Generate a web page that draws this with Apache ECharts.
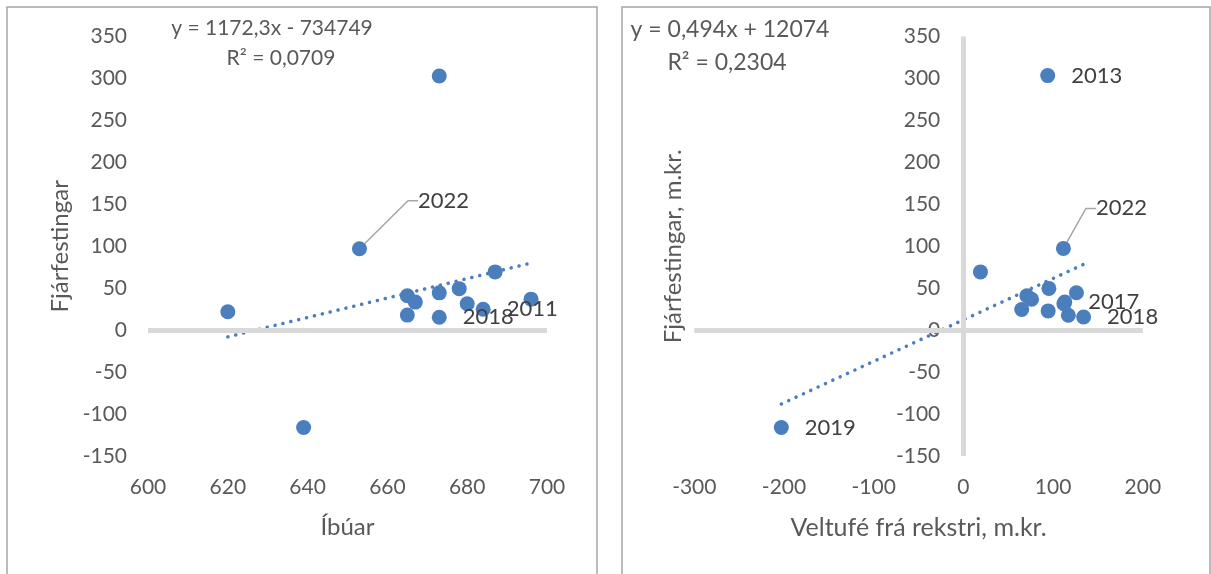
<!DOCTYPE html>
<html>
<head>
<meta charset="utf-8">
<script src="https://cdn.jsdelivr.net/npm/echarts@6/dist/echarts.min.js"></script>
<style>
html,body{margin:0;padding:0;background:#fff;}
#c{width:1211px;height:574px;}
</style>
</head>
<body>
<div id="c"></div>
<script>
// ---- Data ----
// Left chart: Íbúar (x) vs Fjárfestingar (y)
const leftX = [620, 639, 653, 673, 665, 667, 665, 673, 673, 678, 680, 684, 687, 696];
const leftY = [22, -116, 97, 303, 41, 33.5, 18, 44.5, 15.5, 49.5, 31.5, 25, 69.5, 37];
const leftLabels = ['', '', '2022', '', '', '', '', '', '2018', '', '', '2011', '', ''];
const leftTrendX = [620, 696];
const leftTrendY = [-8, 80];
const leftEquation = ['y = 1172,3x - 734749', 'R² = 0,0709'];

// Right chart: Veltufé frá rekstri (x) vs Fjárfestingar (y)
const rightX = [94, 111.5, 19, -203, 95.3, 70.8, 76, 65, 94.5, 113, 126, 117, 134, 112];
const rightY = [303.5, 97.5, 69.5, -116, 49.8, 41, 36.8, 24.6, 23, 33.5, 44.6, 17.8, 15.7, 31.5];
const rightLabels = ['2013', '2022', '', '2019', '', '', '', '', '', '2017', '', '', '2018', ''];
const rightTrendX = [-203, 135];
const rightTrendY = [-88, 79];
const rightEquation = ['y = 0,494x + 12074', 'R² = 0,2304'];

const yTicks = {min: -150, max: 350, interval: 50};
const leftXTicks = {min: 600, max: 700, interval: 20};
const rightXTicks = {min: -300, max: 200, interval: 100};

// ---- Styles ----
const FONT = 'Lato, "Open Sans", sans-serif';
const TXT = '#595959';
const BLUE = '#4a7ebd';
const AXISGRAY = '#d9d9d9';

function pts(xs, ys, labels) {
  return xs.map((x, i) => {
    const item = {value: [x, ys[i]]};
    if (labels[i]) {
      item.label = {show: true, formatter: labels[i]};
      if (labels[i] === '2022') {
        item.labelLine = {show: true, length2: 10, lineStyle: {color: '#a6a6a6', width: 1.5}};
      }
    }
    return item;
  });
}

function trend(xs, ys) { return xs.map((x, i) => [x, ys[i]]); }

const chart = echarts.init(document.getElementById('c'), null, {renderer: 'canvas'});

const labelBase = {show: false, position: 'right', distance: 16, color: '#404040', fontSize: 22, fontFamily: FONT};
const axisLineStyle = {color: AXISGRAY, width: 5, type: 'solid'};

const option = {
  backgroundColor: '#fff',
  animation: false,
  textStyle: {fontFamily: FONT},
  grid: [
    {left: 148, top: 36.6, width: 399, height: 419.4},
    {left: 694.3, top: 36.6, width: 448.5, height: 419.4}
  ],
  xAxis: [
    {
      gridIndex: 0, type: 'value', min: leftXTicks.min, max: leftXTicks.max, interval: leftXTicks.interval,
      axisLine: {show: false}, axisTick: {show: false}, splitLine: {show: false},
      axisLabel: {color: TXT, fontSize: 21, fontFamily: FONT, margin: 21},
      name: 'Íbúar', nameLocation: 'middle', nameGap: 59,
      nameTextStyle: {color: TXT, fontSize: 24, fontFamily: FONT}
    },
    {
      gridIndex: 1, type: 'value', min: rightXTicks.min, max: rightXTicks.max, interval: rightXTicks.interval,
      axisLine: {show: false}, axisTick: {show: false}, splitLine: {show: false},
      axisLabel: {color: TXT, fontSize: 21, fontFamily: FONT, margin: 21},
      name: 'Veltufé frá rekstri, m.kr.', nameLocation: 'middle', nameGap: 59,
      nameTextStyle: {color: TXT, fontSize: 25, fontFamily: FONT}
    }
  ],
  yAxis: [
    {
      gridIndex: 0, type: 'value', min: yTicks.min, max: yTicks.max, interval: yTicks.interval,
      axisLine: {show: false}, axisTick: {show: false}, splitLine: {show: false},
      axisLabel: {color: TXT, fontSize: 21, fontFamily: FONT, margin: 21},
      name: 'Fjárfestingar', nameLocation: 'middle', nameGap: 76,
      nameTextStyle: {color: TXT, fontSize: 24, fontFamily: FONT}
    },
    {
      gridIndex: 1, type: 'value', min: yTicks.min, max: yTicks.max, interval: yTicks.interval,
      axisLine: {show: false, onZero: false},
      axisTick: {show: false}, splitLine: {show: false},
      axisLabel: {color: TXT, fontSize: 21, fontFamily: FONT, margin: -246, align: 'right'},
      name: 'Fjárfestingar, m.kr.', nameLocation: 'middle', nameGap: 9,
      nameTextStyle: {color: TXT, fontSize: 24, fontFamily: FONT}
    }
  ],
  graphic: [
    {type: 'rect', shape: {x: 7, y: 7, width: 590, height: 600}, style: {fill: 'none', stroke: '#a6a6a6', lineWidth: 1.5}, silent: true, z: -1},
    {type: 'rect', shape: {x: 622, y: 7, width: 588, height: 600}, style: {fill: 'none', stroke: '#a6a6a6', lineWidth: 1.5}, silent: true, z: -1},
    {type: 'text', x: 272, y: 28, style: {text: leftEquation[0], fill: TXT, fontSize: 21, fontFamily: FONT, textAlign: 'center', textVerticalAlign: 'middle'}},
    {type: 'text', x: 281, y: 58, style: {text: leftEquation[1], fill: TXT, fontSize: 21, fontFamily: FONT, textAlign: 'center', textVerticalAlign: 'middle'}},
    {type: 'text', x: 730, y: 30, style: {text: rightEquation[0], fill: TXT, fontSize: 23, fontFamily: FONT, textAlign: 'center', textVerticalAlign: 'middle'}},
    {type: 'text', x: 727, y: 63, style: {text: rightEquation[1], fill: TXT, fontSize: 23, fontFamily: FONT, textAlign: 'center', textVerticalAlign: 'middle'}}
  ],
  series: [
    {
      type: 'line', xAxisIndex: 0, yAxisIndex: 0, data: [], silent: true,
      markLine: {silent: true, symbol: 'none', label: {show: false}, lineStyle: axisLineStyle,
        data: [{yAxis: 0}]}, z: 1
    },
    {
      type: 'line', xAxisIndex: 1, yAxisIndex: 1, data: [], silent: true,
      markLine: {silent: true, symbol: 'none', label: {show: false}, lineStyle: axisLineStyle,
        data: [{yAxis: 0}, {xAxis: 0}]}, z: 1
    },
    {
      type: 'scatter', xAxisIndex: 0, yAxisIndex: 0, symbolSize: 15,
      itemStyle: {color: BLUE, opacity: 1},
      label: labelBase,
      labelLayout: function (p) {
        if (leftLabels[p.dataIndex] === '2022') return {dx: 35, dy: -48};
        return {};
      },
      data: pts(leftX, leftY, leftLabels), z: 3
    },
    {
      type: 'scatter', xAxisIndex: 1, yAxisIndex: 1, symbolSize: 15,
      itemStyle: {color: BLUE, opacity: 1},
      label: labelBase,
      labelLayout: function (p) {
        if (rightLabels[p.dataIndex] === '2022') return {dx: 9, dy: -40};
        return {};
      },
      data: pts(rightX, rightY, rightLabels), z: 3
    },
    {
      type: 'line', xAxisIndex: 0, yAxisIndex: 0, data: trend(leftTrendX, leftTrendY), symbol: 'none', silent: true,
      lineStyle: {color: BLUE, width: 3.5, type: [0.1, 8], cap: 'round'}, z: 4
    },
    {
      type: 'line', xAxisIndex: 1, yAxisIndex: 1, data: trend(rightTrendX, rightTrendY), symbol: 'none', silent: true,
      lineStyle: {color: BLUE, width: 3.5, type: [0.1, 8], cap: 'round'}, z: 4
    }
  ]
};
chart.setOption(option);
</script>
</body>
</html>
